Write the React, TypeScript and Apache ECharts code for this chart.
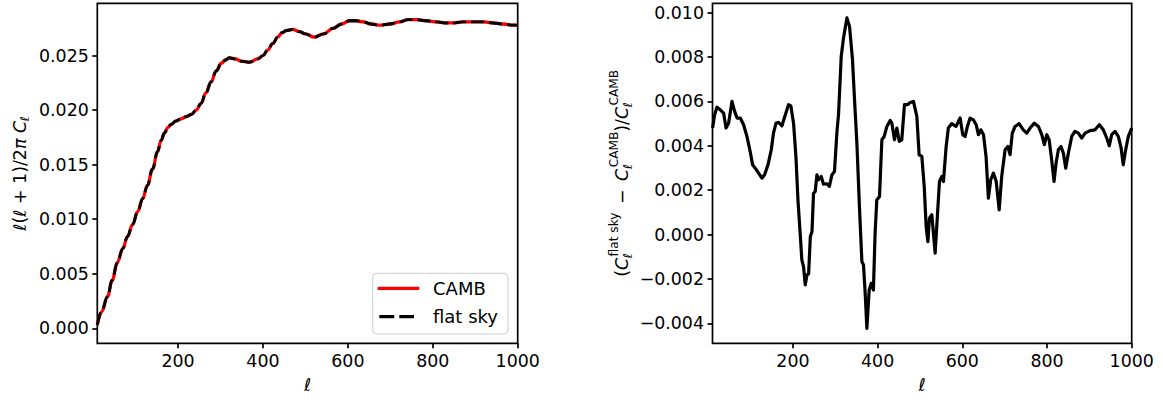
import { useEffect, useRef } from 'react';
import * as echarts from 'echarts';

const FONT = '"DejaVu Sans", sans-serif';
const F = 17.4;

// ---- left panel: l(l+1)/2pi C_l ----
const ellL = [10, 20, 34, 45, 57, 70, 81, 93, 105, 117, 128, 140, 152, 160, 168, 176, 184, 195, 207, 219, 231, 243, 254, 266, 278, 290, 302, 312, 321, 335, 349, 368, 388, 400, 411, 423, 435, 445, 455, 470, 486, 500, 521, 543, 565, 585, 604, 620, 636, 655, 675, 699, 722, 742, 762, 785, 809, 830, 848, 870, 895, 920, 942, 965, 990, 1000];
const clCAMB = [0.0003, 0.0015, 0.0029, 0.0044, 0.006, 0.0073, 0.0084, 0.0095, 0.0107, 0.0119, 0.0131, 0.0146, 0.0162, 0.0172, 0.0179, 0.0184, 0.0187, 0.019, 0.0192, 0.0194, 0.0196, 0.02, 0.0206, 0.0216, 0.0226, 0.0236, 0.0243, 0.0246, 0.0248, 0.0247, 0.0245, 0.0244, 0.0247, 0.025, 0.0255, 0.0261, 0.0267, 0.0271, 0.0273, 0.0274, 0.0272, 0.027, 0.0267, 0.027, 0.0275, 0.0279, 0.0282, 0.0282, 0.0281, 0.0279, 0.0278, 0.0279, 0.0281, 0.0283, 0.0283, 0.0282, 0.0281, 0.028, 0.028, 0.0281, 0.0281, 0.0281, 0.028, 0.0279, 0.0278, 0.0278];
const clFlatSky = [0.0003, 0.0015, 0.0029, 0.0044, 0.006, 0.0073, 0.0084, 0.0095, 0.0107, 0.0119, 0.0131, 0.0146, 0.0162, 0.0172, 0.0179, 0.0184, 0.0187, 0.019, 0.0192, 0.0194, 0.0196, 0.02, 0.0206, 0.0216, 0.0226, 0.0236, 0.0243, 0.0246, 0.0248, 0.0247, 0.0245, 0.0244, 0.0247, 0.025, 0.0255, 0.0261, 0.0267, 0.0271, 0.0273, 0.0274, 0.0272, 0.027, 0.0267, 0.027, 0.0275, 0.0279, 0.0282, 0.0282, 0.0281, 0.0279, 0.0278, 0.0279, 0.0281, 0.0283, 0.0283, 0.0282, 0.0281, 0.028, 0.028, 0.0281, 0.0281, 0.0281, 0.028, 0.0279, 0.0278, 0.0278];

// ---- right panel: relative difference ----
const ellR = [10.3, 15, 20.6, 28.4, 36.3, 42, 48, 56, 62.3, 68, 75.6, 83.4, 91.4, 99, 104.7, 111, 118.8, 126.8, 133, 141, 148.8, 154, 160, 166, 174, 182, 189.6, 195, 201.4, 207, 211.8, 217, 221, 225, 229, 233, 237, 241, 245, 248.6, 252.6, 256.6, 260.4, 266.8, 272, 280, 286, 292, 298, 304, 307.6, 314, 319.4, 327.4, 333.6, 340.6, 345.4, 351, 357, 362.8, 366.6, 370.6, 374.6, 380, 384.8, 390, 394, 398, 404.4, 410, 415.5, 421.8, 429.6, 433.6, 439.8, 445.4, 451, 457, 463.4, 470.4, 476.8, 484.6, 492.6, 498, 504.4, 510, 514.6, 518.6, 522.4, 528, 535.8, 541, 546, 551.6, 555.4, 561.8, 567, 575, 585, 594.8, 601, 606.6, 612, 618.4, 626, 632.6, 638, 643.7, 650, 656, 661.6, 667, 673.4, 680, 687, 693, 701, 707.4, 712.8, 718, 724.6, 734, 744, 752, 760, 770, 779.6, 787.6, 793.7, 799.4, 805, 811, 816.6, 821.4, 826.8, 833, 838.6, 844.2, 850.4, 858.4, 866, 874, 882, 890, 901.6, 913.4, 923.6, 933, 941, 947, 952.8, 960.6, 968.4, 975, 980, 985.8, 992, 998.4, 1000];
const relDiff = [0.0048, 0.0054, 0.00574, 0.00562, 0.00547, 0.0048, 0.00502, 0.006, 0.00555, 0.00525, 0.00525, 0.00495, 0.00442, 0.00374, 0.00314, 0.00299, 0.00277, 0.00254, 0.00269, 0.00314, 0.00382, 0.00457, 0.00502, 0.00505, 0.0049, 0.0054, 0.00585, 0.0058, 0.00502, 0.00352, 0.00156, 0.00006, -0.00114, -0.00144, -0.00227, -0.00182, -0.00177, -0.0001, 0.00014, 0.00186, 0.00194, 0.00269, 0.00247, 0.00262, 0.00227, 0.00229, 0.00217, 0.00269, 0.00284, 0.00465, 0.0054, 0.00803, 0.00886, 0.00976, 0.00938, 0.00788, 0.00608, 0.00412, 0.00126, -0.00122, -0.00137, -0.00265, -0.00423, -0.0025, -0.0022, -0.0025, 0.00006, 0.00156, 0.00171, 0.00427, 0.00442, 0.00487, 0.00514, 0.00502, 0.00427, 0.0048, 0.0042, 0.00427, 0.00585, 0.00585, 0.00595, 0.006, 0.00532, 0.00359, 0.00352, 0.00217, 0.00036, -0.00032, 0.00074, 0.00089, -0.00084, 0.00081, 0.00239, 0.00262, 0.00239, 0.00397, 0.0048, 0.005, 0.00487, 0.00525, 0.0045, 0.00442, 0.00487, 0.00525, 0.00517, 0.00495, 0.0045, 0.00472, 0.0045, 0.00352, 0.00164, 0.00247, 0.00277, 0.00239, 0.00111, 0.00262, 0.00382, 0.00397, 0.0036, 0.00457, 0.00487, 0.005, 0.00472, 0.00457, 0.0048, 0.00502, 0.00487, 0.0045, 0.00405, 0.0045, 0.00427, 0.00337, 0.00239, 0.00322, 0.00382, 0.00397, 0.00367, 0.00299, 0.00367, 0.00442, 0.00465, 0.00457, 0.00435, 0.00457, 0.00468, 0.00472, 0.00495, 0.00472, 0.00435, 0.004, 0.0045, 0.00465, 0.00442, 0.0039, 0.00314, 0.00382, 0.00442, 0.00472, 0.0048];

const xTicks = [200, 400, 600, 800, 1000];
const yTicksL = [0, 0.005, 0.01, 0.015, 0.02, 0.025];
const yTicksR = [-0.004, -0.002, 0, 0.002, 0.004, 0.006, 0.008, 0.01];
const legendNames = ['CAMB', 'flat sky'];

type Piece = { t: string; it?: boolean; sup?: string; sub?: string; gap?: number };
const labelL: Piece[] = [
  { t: 'ℓ', it: true }, { t: '(' }, { t: 'ℓ', it: true }, { t: ' + 1)/2' }, { t: 'π', it: true }, { t: ' ' }, { t: 'C', it: true, sub: 'ℓ' },
];
const labelR: Piece[] = [
  { t: '(' }, { t: 'C', it: true, sup: 'flat sky', sub: 'ℓ' }, { t: ' − ', gap: 3 }, { t: 'C', it: true, sup: 'CAMB', sub: 'ℓ' }, { t: ')/' }, { t: 'C', it: true, sup: 'CAMB', sub: 'ℓ' },
];

let ctx: CanvasRenderingContext2D | null = null;
function measure(text: string, size: number, italic: boolean) {
  if (!ctx) ctx = document.createElement('canvas').getContext('2d');
  if (!ctx) return text.length * size * 0.6;
  ctx.font = `${italic ? 'italic ' : ''}${size}px "DejaVu Sans"`;
  return ctx.measureText(text).width;
}

function txt(text: string, x: number, y: number, size: number, italic: boolean) {
  return {
    type: 'text', x, y,
    style: { text, fontSize: size, fontFamily: FONT, fontStyle: italic ? 'italic' : 'normal', fill: '#000', align: 'left', verticalAlign: 'middle' },
  };
}

function mathLabel(pieces: Piece[], cx: number, cy: number) {
  const children: any[] = [];
  const sF = F * 0.7;
  let x = 0;
  for (const p of pieces) {
    const g = p.gap || 0;
    x += g;
    children.push(txt(p.t, x, 0, F, !!p.it));
    x += measure(p.t, F, !!p.it) + g;
    if (p.sup || p.sub) {
      let sw = 0;
      if (p.sup) {
        const off = F * 0.08;
        children.push(txt(p.sup, x + off, -F * 0.45, sF, false));
        sw = Math.max(sw, measure(p.sup, sF, false) + off);
      }
      if (p.sub) {
        children.push(txt(p.sub, x - F * 0.02, F * 0.3, sF, true));
        sw = Math.max(sw, measure(p.sub, sF, true));
      }
      x += sw;
    }
  }
  const half = x / 2;
  children.forEach((c) => { c.x -= half; });
  return { type: 'group', x: cx, y: cy, rotation: Math.PI / 2, children };
}

const fmt = (v: number) => (v < 0 ? '\u2212' : '') + Math.abs(v).toFixed(3);

function xAxisCfg(gridIndex: number) {
  return {
    type: 'value', gridIndex, min: 10, max: 1000,
    axisLine: { show: false, onZero: false }, splitLine: { show: false },
    axisTick: { show: true, length: 5, lineStyle: { color: '#000', width: 1.7 }, customValues: xTicks },
    axisLabel: { customValues: xTicks, color: '#000', fontSize: F, fontFamily: FONT, margin: 9, formatter: (v: number) => String(v) },
    name: 'ℓ', nameLocation: 'middle', nameGap: 33,
    nameTextStyle: { fontStyle: 'italic', fontSize: F, fontFamily: FONT, color: '#000' },
  };
}
function yAxisCfg(gridIndex: number, min: number, max: number, ticks: number[]) {
  return {
    type: 'value', gridIndex, min, max,
    axisLine: { show: false, onZero: false }, splitLine: { show: false },
    axisTick: { show: true, length: 5, lineStyle: { color: '#000', width: 1.7 }, customValues: ticks },
    axisLabel: { customValues: ticks, color: '#000', fontSize: F, fontFamily: FONT, margin: 8.5, formatter: fmt },
  };
}

export default function App() {
  const ref = useRef<HTMLDivElement>(null);
  useEffect(() => {
    if (!ref.current) return;
    const chart = echarts.init(ref.current, null, { renderer: 'svg' });
    const gridStyle = { show: true, borderColor: '#000', borderWidth: 1.7, backgroundColor: 'transparent' };
    chart.setOption({
      animation: false,
      grid: [
        { left: 97.3, top: 3.3, width: 420.4, height: 340, ...gridStyle },
        { left: 712.5, top: 3.3, width: 419.2, height: 340, ...gridStyle },
      ],
      xAxis: [xAxisCfg(0), xAxisCfg(1)],
      yAxis: [yAxisCfg(0, -0.00138, 0.0298, yTicksL), yAxisCfg(1, -0.0049, 0.01042, yTicksR)],
      series: [
        {
          name: legendNames[0], type: 'line', xAxisIndex: 0, yAxisIndex: 0,
          data: ellL.map((e, i) => [e, clCAMB[i]]), showSymbol: false, symbol: 'none',
          smooth: 0.4, smoothMonotone: 'x',
          lineStyle: { color: '#ff0000', width: 3.3 },
        },
        {
          name: legendNames[1], type: 'line', xAxisIndex: 0, yAxisIndex: 0,
          data: ellL.map((e, i) => [e, clFlatSky[i]]), showSymbol: false, symbol: 'none',
          smooth: 0.4, smoothMonotone: 'x',
          lineStyle: { color: '#000', width: 2.9, type: [13, 5], cap: 'butt' },
        },
        {
          name: 'diff', type: 'line', xAxisIndex: 1, yAxisIndex: 1,
          data: ellR.map((e, i) => [e, relDiff[i]]), showSymbol: false, symbol: 'none',
          lineStyle: { color: '#000', width: 3.2, join: 'round' },
        },
      ],
      graphic: [
        mathLabel(labelL, 19.5, 173.3),
        mathLabel(labelR, 622.3, 173.3),
        {
          type: 'rect', shape: { x: 372.7, y: 273.3, width: 135.3, height: 60.7, r: 4 },
          style: { fill: 'rgba(255,255,255,0.8)', stroke: '#cccccc', lineWidth: 1 },
        },
        { type: 'line', shape: { x1: 377.7, y1: 288.3, x2: 419.3, y2: 288.3 }, style: { stroke: '#ff0000', lineWidth: 3.3 } },
        { type: 'line', shape: { x1: 379.3, y1: 316.7, x2: 414, y2: 316.7 }, style: { stroke: '#000', lineWidth: 3.3, lineDash: [15, 5], lineCap: 'butt' } },
        { type: 'text', x: 433, y: 288.3, style: { text: legendNames[0], fontSize: 18, fontFamily: FONT, fill: '#000', verticalAlign: 'middle' } },
        { type: 'text', x: 433, y: 316.7, style: { text: legendNames[1], fontSize: 18, fontFamily: FONT, fill: '#000', verticalAlign: 'middle' } },
      ],
    });
    return () => chart.dispose();
  }, []);
  return <div ref={ref} style={{ position: 'absolute', left: 0, top: 0, width: 1163, height: 402 }} />;
}
